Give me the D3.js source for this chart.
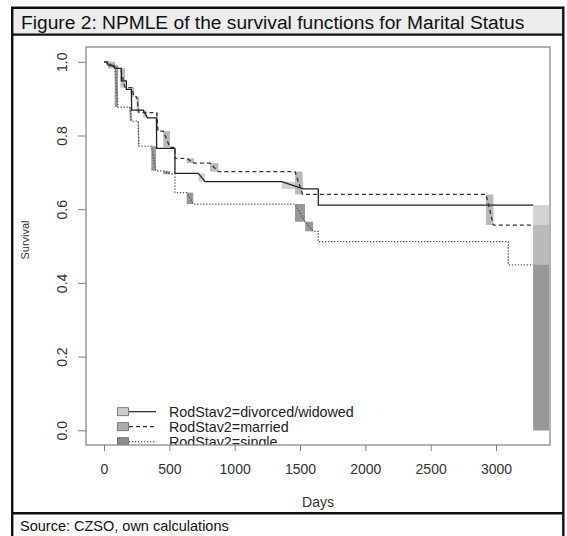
<!DOCTYPE html>
<html>
<head>
<meta charset="utf-8">
<script src="https://cdn.jsdelivr.net/npm/d3@7"></script>
<style>
  html, body { margin: 0; padding: 0; background: #fff; }
  svg { display: block; font-family: "Liberation Sans", Arial, sans-serif; }
</style>
</head>
<body>
<svg id="chart" width="567" height="536"></svg>
<script>
// ---- Data ----
const titleText = "Figure 2: NPMLE of the survival functions for Marital Status";
const sourceText = "Source: CZSO, own calculations";
const xLabel = "Days";
const yLabel = "Survival";
const xTicks = [0, 500, 1000, 1500, 2000, 2500, 3000];
const yTicks = [0, 0.2, 0.4, 0.6, 0.8, 1.0];
const yTickLabels = ["0.0", "0.2", "0.4", "0.6", "0.8", "1.0"];
const groups = ["RodStav2=divorced/widowed", "RodStav2=married", "RodStav2=single"];

// NPMLE drop intervals [L, R] and survival after each drop
const divL = [15, 70, 133, 171, 209, 300, 401, 543, 722, 1360, 1640];
const divR = [40, 84, 133, 171, 212, 332, 403, 543, 773, 1525, 1640];
const divS = [0.99, 0.982, 0.948, 0.925, 0.869, 0.848, 0.765, 0.697, 0.675, 0.655, 0.611];

const marL = [30, 126, 212, 250, 403, 454, 543, 633, 811, 1462, 2923];
const marR = [84, 161, 230, 268, 413, 505, 543, 690, 875, 1520, 2980];
const marS = [0.982, 0.93, 0.905, 0.862, 0.812, 0.768, 0.738, 0.725, 0.702, 0.640, 0.557];

const sinL = [20, 82, 196, 260, 362, 454, 543, 633, 1462, 1540, 1640, 3094];
const sinR = [40, 107, 212, 268, 398, 505, 543, 683, 1538, 1600, 1640, 3094];
const sinS = [0.99, 0.877, 0.839, 0.771, 0.704, 0.695, 0.645, 0.614, 0.566, 0.540, 0.512, 0.449];

const lastDay = 3285;

// ---- Layout ----
const box = { left: 86, right: 550, top: 47, bottom: 445 };
const x = d3.scaleLinear().domain([0, 3000]).range([104, 496]);
const y = d3.scaleLinear().domain([0, 1]).range([430.3, 61.8]);

const styles = [
  { box: "#d2d2d2", legendFill: "#cccccc", dash: null, stroke: "#222", width: 1.3 },
  { box: "#bababa", legendFill: "#adadad", dash: "4,3", stroke: "#333", width: 1.3 },
  { box: "#989898", legendFill: "#8c8c8c", dash: "1.3,1.7", stroke: "#555", width: 1.3 }
];
const series = [
  { L: divL, R: divR, S: divS },
  { L: marL, R: marR, S: marS },
  { L: sinL, R: sinR, S: sinS }
];

const svg = d3.select("#chart");

// Frame: header
svg.append("rect").attr("x", 12).attr("y", 7.5).attr("width", 551.5).attr("height", 27)
  .attr("fill", "#ececec");
svg.append("text").attr("x", 21).attr("y", 29).attr("font-size", 19.2).attr("fill", "#111")
  .text(titleText);
svg.append("text").attr("x", 20).attr("y", 531).attr("font-size", 14.5).attr("fill", "#111")
  .text(sourceText);

// Plot clip
svg.append("clipPath").attr("id", "plotClip").append("rect")
  .attr("x", box.left).attr("y", box.top)
  .attr("width", box.right - box.left).attr("height", box.bottom - box.top);

const plot = svg.append("g").attr("clip-path", "url(#plotClip)");

// Boxes
series.forEach((s, gi) => {
  let prev = 1;
  s.L.forEach((L, i) => {
    const R = s.R[i], S = s.S[i];
    if (R > L) {
      plot.append("rect")
        .attr("x", x(L)).attr("width", x(R) - x(L))
        .attr("y", y(prev)).attr("height", y(S) - y(prev))
        .attr("fill", styles[gi].box);
    }
    prev = S;
  });
  plot.append("rect")
    .attr("x", x(lastDay)).attr("width", box.right - 1 - x(lastDay))
    .attr("y", y(prev)).attr("height", y(0) - y(prev))
    .attr("fill", styles[gi].box);
});

// Lines
const line = d3.line().x(d => x(d[0])).y(d => y(d[1]));
series.forEach((s, gi) => {
  const pts = [[0, 1]];
  let prev = 1;
  s.L.forEach((L, i) => {
    pts.push([L, prev]);
    pts.push([s.R[i], s.S[i]]);
    prev = s.S[i];
  });
  pts.push([lastDay, prev]);
  plot.append("path").datum(pts)
    .attr("d", line)
    .attr("fill", "none")
    .attr("stroke", styles[gi].stroke)
    .attr("stroke-width", styles[gi].width)
    .attr("stroke-dasharray", styles[gi].dash);
});

// Legend (clipped to plot region)
const legRows = [411.7, 426.7, 441.7];
groups.forEach((g, i) => {
  const yy = legRows[i];
  plot.append("rect").attr("x", 117.5).attr("y", yy - 4).attr("width", 11).attr("height", 8)
    .attr("fill", styles[i].legendFill).attr("stroke", "#666").attr("stroke-width", 0.8);
  plot.append("line").attr("x1", 129).attr("x2", 156).attr("y1", yy).attr("y2", yy)
    .attr("stroke", styles[i].stroke).attr("stroke-width", 1.2)
    .attr("stroke-dasharray", styles[i].dash);
  plot.append("text").attr("x", 169).attr("y", yy + 5).attr("font-size", 14.3)
    .attr("fill", "#222").text(g);
});

// Plot box
svg.append("rect").attr("x", box.left).attr("y", box.top)
  .attr("width", box.right - box.left).attr("height", box.bottom - box.top)
  .attr("fill", "none").attr("stroke", "#808080").attr("stroke-width", 1.2);

// X axis
const xAxis = svg.append("g").attr("transform", `translate(0,${box.bottom})`)
  .call(d3.axisBottom(x).tickValues(xTicks).tickSize(6).tickPadding(13).tickFormat(d3.format("d")));
xAxis.select(".domain").remove();
xAxis.selectAll("line").attr("stroke", "#808080");
xAxis.selectAll("text").attr("font-size", 14).attr("fill", "#333")
  .attr("font-family", "Liberation Sans, Arial, sans-serif");

// Y axis
const yAxis = svg.append("g").attr("transform", `translate(${box.left},0)`)
  .call(d3.axisLeft(y).tickValues(yTicks).tickSize(8).tickFormat((d, i) => yTickLabels[i]));
yAxis.select(".domain").remove();
yAxis.selectAll("line").attr("stroke", "#808080");
yAxis.selectAll(".tick text")
  .attr("font-size", 14).attr("fill", "#333")
  .attr("font-family", "Liberation Sans, Arial, sans-serif")
  .attr("text-anchor", "middle")
  .attr("x", 0).attr("y", 0).attr("dy", "0")
  .attr("transform", "translate(-19,0) rotate(-90)");

// Axis titles
svg.append("text").attr("x", (box.left + box.right) / 2).attr("y", 507)
  .attr("text-anchor", "middle").attr("font-size", 14).attr("fill", "#333").text(xLabel);
svg.append("text").attr("transform", "translate(29,240) rotate(-90)")
  .attr("text-anchor", "middle").attr("font-size", 11).attr("fill", "#333").text(yLabel);

// Frame lines
const frame = svg.append("g").attr("stroke", "#111").attr("stroke-width", 2.4).attr("fill", "none");
frame.append("path").attr("d", "M12.2,545 V7.8 H563.3 V545");
frame.append("line").attr("x1", 12).attr("x2", 563.5).attr("y1", 34.6).attr("y2", 34.6);
frame.append("line").attr("x1", 12).attr("x2", 563.5).attr("y1", 513.3).attr("y2", 513.3);
</script>
</body>
</html>
